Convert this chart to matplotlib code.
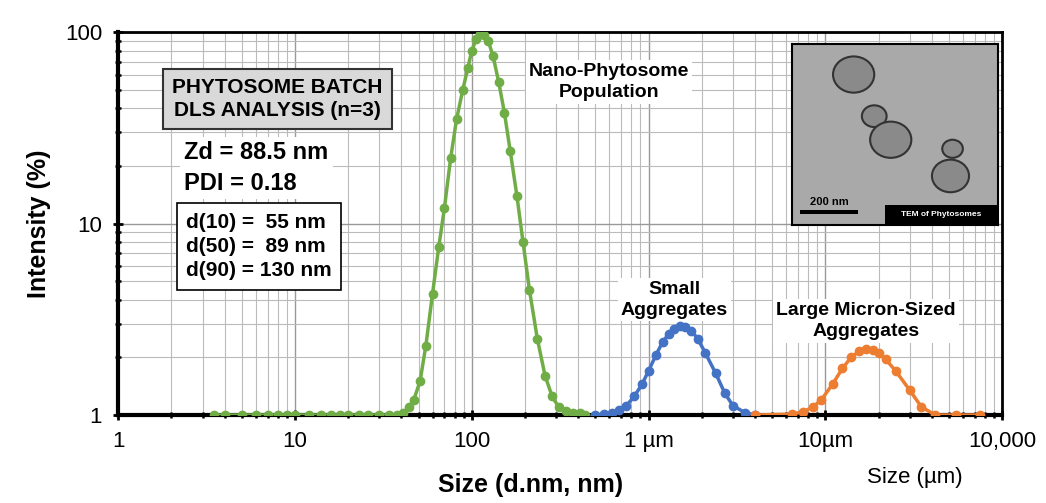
import matplotlib
matplotlib.use('Agg')
import matplotlib.pyplot as plt
from matplotlib.patches import Circle, Rectangle
from matplotlib.ticker import FixedLocator, NullFormatter, LogLocator

plt.rcParams['font.family'] = ['Liberation Sans', 'DejaVu Sans']

# Nano-phytosome population (green)
nano_x = [3.5, 4, 5, 6, 7, 8, 9, 10, 12, 14, 16, 18, 20, 23, 26, 30, 34, 38, 41,
          44, 47, 51, 55, 60, 65, 70, 76, 82, 89, 95, 100, 106, 111, 118, 124, 132,
          142, 153, 165, 180, 195, 212, 235, 260, 285, 310, 340, 375, 410, 440]
nano_y = [1.0, 1.0, 1.0, 1.0, 1.0, 1.0, 1.0, 1.0, 1.0, 1.0, 1.0, 1.0, 1.0, 1.0, 1.0, 1.0, 1.0, 1.0, 1.02,
          1.1, 1.2, 1.5, 2.3, 4.3, 7.5, 12, 22, 35, 50, 65, 80, 92, 98, 97, 90, 75,
          55, 38, 24, 14, 8, 4.5, 2.5, 1.6, 1.25, 1.1, 1.05, 1.03, 1.02, 1.0]

# Small aggregates (blue)
small_x = [500, 560, 620, 680, 750, 830, 920, 1000, 1100, 1200, 1300, 1400, 1500,
           1600, 1750, 1900, 2100, 2400, 2700, 3000, 3500, 4000]
small_y = [1.0, 1.01, 1.03, 1.06, 1.12, 1.25, 1.45, 1.7, 2.05, 2.4, 2.65, 2.82, 2.9,
           2.88, 2.75, 2.5, 2.1, 1.65, 1.3, 1.12, 1.03, 1.0]

# Large micron-sized aggregates (orange)
large_x = [4000, 6500, 7500, 8500, 9500, 11000, 12500, 14000, 15500, 17000, 18500,
           20000, 22000, 25000, 30000, 35000, 42000, 55000, 75000]
large_y = [1.0, 1.01, 1.04, 1.1, 1.2, 1.45, 1.75, 2.0, 2.15, 2.2, 2.18,
           2.1, 1.95, 1.7, 1.35, 1.1, 1.0, 1.0, 1.0]

x_ticks = [1, 10, 100, 1000, 10000, 100000]
x_labels = ['1', '10', '100', '1 µm', '10µm', '10,000']
y_ticks = [1, 10, 100]
y_labels = ['1', '10', '100']

fig = plt.figure(figsize=(10.46, 5.03), dpi=100)
ax = fig.add_axes([0.113, 0.175, 0.845, 0.761])

ax.plot(nano_x, nano_y, '-o', color='#70ad47', lw=2.5, ms=6, zorder=3)
ax.plot(small_x, small_y, '-o', color='#4472c4', lw=2.5, ms=6, zorder=3)
ax.plot(large_x, large_y, '-o', color='#ed7d31', lw=2.5, ms=6, zorder=3)

ax.set_xscale('log')
ax.set_yscale('log')
ax.set_xlim(1, 100000)
ax.set_ylim(1, 100)
ax.xaxis.set_major_locator(FixedLocator(x_ticks))
ax.set_xticklabels(x_labels, fontsize=16)
ax.yaxis.set_major_locator(FixedLocator(y_ticks))
ax.set_yticklabels(y_labels, fontsize=16)
ax.xaxis.set_minor_locator(LogLocator(base=10, subs=range(2, 10), numticks=20))
ax.yaxis.set_minor_locator(LogLocator(base=10, subs=range(2, 10), numticks=20))
ax.xaxis.set_minor_formatter(NullFormatter())
ax.yaxis.set_minor_formatter(NullFormatter())
ax.tick_params(which='major', length=7, width=2, direction='inout', pad=8)
ax.tick_params(which='minor', length=5, width=1.8, direction='inout')
ax.grid(which='major', color='#999999', lw=1)
ax.grid(which='minor', color='#bbbbbb', lw=0.8)
ax.set_axisbelow(True)
for s in ['left', 'bottom']:
    ax.spines[s].set_linewidth(3)
for s in ['top', 'right']:
    ax.spines[s].set_linewidth(2)

ax.set_ylabel('Intensity (%)', fontsize=18, fontweight='bold', labelpad=10)
fig.text(0.507, 0.022, 'Size (d.nm, nm)', fontsize=18, fontweight='bold', ha='center')
fig.text(0.875, 0.04, 'Size (µm)', fontsize=16, ha='center')

ax.text(0.18, 0.825, 'PHYTOSOME BATCH\nDLS ANALYSIS (n=3)', transform=ax.transAxes,
        ha='center', va='center', fontsize=15, fontweight='bold', linespacing=1.25,
        bbox=dict(boxstyle='square,pad=0.45', fc='#d9d9d9', ec='#333333', lw=1.5))
ax.text(0.075, 0.645, 'Zd = 88.5 nm\nPDI = 0.18', transform=ax.transAxes,
        ha='left', va='center', fontsize=17, fontweight='bold', linespacing=1.4,
        bbox=dict(boxstyle='square,pad=0.2', fc='white', ec='none'))
ax.text(0.077, 0.44, 'd(10) =  55 nm\nd(50) =  89 nm\nd(90) = 130 nm', transform=ax.transAxes,
        ha='left', va='center', fontsize=15, fontweight='bold', linespacing=1.35,
        bbox=dict(boxstyle='square,pad=0.45', fc='white', ec='black', lw=1.2))
ax.text(600, 55, 'Nano-Phytosome\nPopulation', ha='center', va='center', fontsize=14,
        fontweight='bold', linespacing=1.3, bbox=dict(fc='white', ec='none', pad=2))
ax.text(1400, 4.0, 'Small\nAggregates', ha='center', va='center', fontsize=14,
        fontweight='bold', linespacing=1.3, bbox=dict(fc='white', ec='none', pad=2))
ax.text(17000, 3.1, 'Large Micron-Sized\nAggregates', ha='center', va='center', fontsize=14,
        fontweight='bold', linespacing=1.3, bbox=dict(fc='white', ec='none', pad=2))

# TEM inset (schematic)
ins = fig.add_axes([0.757, 0.553, 0.197, 0.36])
ins.set_xlim(0, 1)
ins.set_ylim(0, 1)
ins.set_facecolor('#a9a9a9')
ins.set_xticks([])
ins.set_yticks([])
for s in ins.spines.values():
    s.set_linewidth(1.5)
for cx, cy, r in [(0.3, 0.83, 0.1), (0.4, 0.6, 0.06), (0.48, 0.47, 0.1), (0.78, 0.42, 0.05), (0.77, 0.27, 0.09)]:
    ins.add_patch(Circle((cx, cy), r, fc='#8a8a8a', ec='#333333', lw=1.5))
ins.add_patch(Rectangle((0.04, 0.06), 0.28, 0.02, fc='black'))
ins.text(0.18, 0.1, '200 nm', ha='center', va='bottom', fontsize=8, fontweight='bold')
ins.add_patch(Rectangle((0.45, 0.0), 0.55, 0.11, fc='black'))
ins.text(0.725, 0.055, 'TEM of Phytosomes', ha='center', va='center', fontsize=6,
         fontweight='bold', color='white')

fig.savefig('out.png', dpi=100)
